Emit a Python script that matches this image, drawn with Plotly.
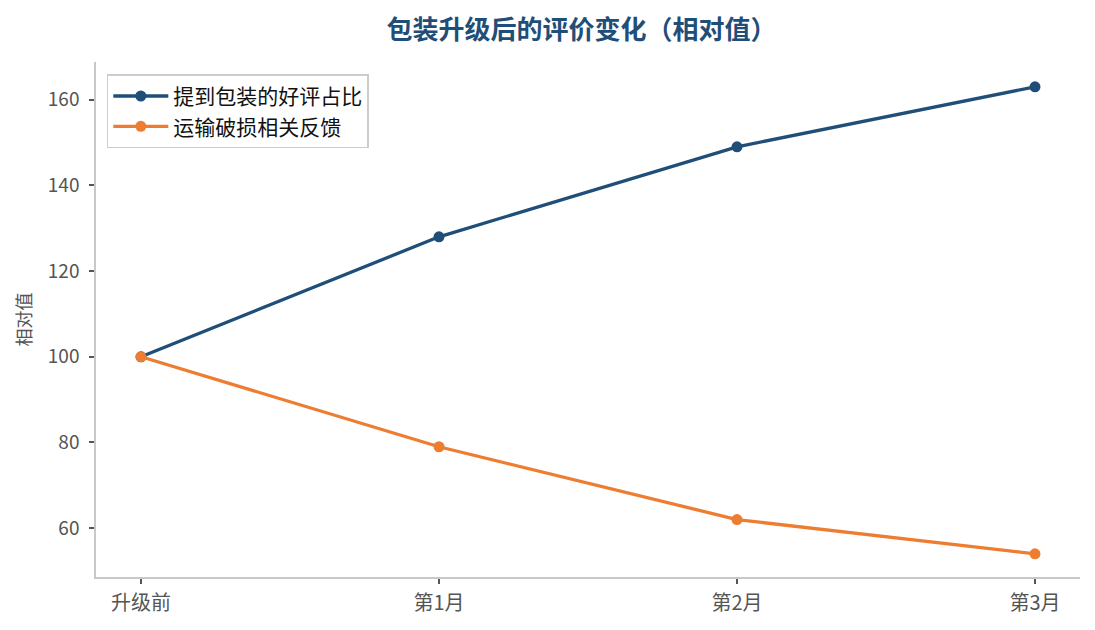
import plotly.graph_objects as go

categories = ["升级前", "第1月", "第2月", "第3月"]
positive_pack = [100, 128, 149, 163]
damage_feedback = [100, 79, 62, 54]
y_ticks = [60, 80, 100, 120, 140, 160]

FONT = "Noto Sans CJK SC"
fig = go.Figure()
fig.add_trace(go.Scatter(x=categories, y=positive_pack, mode="lines+markers",
                         name="提到包装的好评占比",
                         line=dict(color="#1f4e79", width=3.3),
                         marker=dict(size=11, color="#1f4e79")))
fig.add_trace(go.Scatter(x=categories, y=damage_feedback, mode="lines+markers",
                         name="运输破损相关反馈",
                         line=dict(color="#ed7d31", width=3.3),
                         marker=dict(size=11, color="#ed7d31")))

fig.update_layout(
    width=1095, height=630,
    margin=dict(l=96, r=15, t=62, b=53),
    paper_bgcolor="white", plot_bgcolor="white",
    font=dict(family=FONT, color="#555555", size=18),
    title=dict(text="<b>包装升级后的评价变化（相对值）</b>", x=0.531, xanchor="center",
               y=0.952, yanchor="middle",
               font=dict(family=FONT, size=26, color="#1f4e79")),
    legend=dict(x=0.011, y=0.976, xanchor="left", yanchor="top",
                bgcolor="white", bordercolor="#cccccc", borderwidth=1.5,
                font=dict(family=FONT, size=21, color="#111111"),
                itemwidth=55, tracegroupgap=2),
    showlegend=True,
)
fig.update_xaxes(type="category", range=[-0.151, 3.151], showline=True,
                 linecolor="#c8c8c8", linewidth=1.5, mirror=False,
                 ticks="outside", ticklen=5, tickcolor="#555555", tickwidth=1.5,
                 showgrid=False, zeroline=False, ticklabelstandoff=2,
                 tickfont=dict(family=FONT, size=20, color="#555555"))
fig.update_yaxes(range=[48.6, 168.8], tickvals=y_ticks, showline=True,
                 linecolor="#c8c8c8", linewidth=1.5,
                 ticks="outside", ticklen=5, tickcolor="#555555", tickwidth=1.5,
                 showgrid=False, zeroline=False, ticklabelstandoff=6,
                 title=dict(text="相对值", standoff=12,
                            font=dict(family=FONT, size=18, color="#555555")),
                 tickfont=dict(family=FONT, size=19, color="#555555"))

fig.write_html("out.html", post_script="document.body.style.margin='0';",
               config={"displayModeBar": False})
